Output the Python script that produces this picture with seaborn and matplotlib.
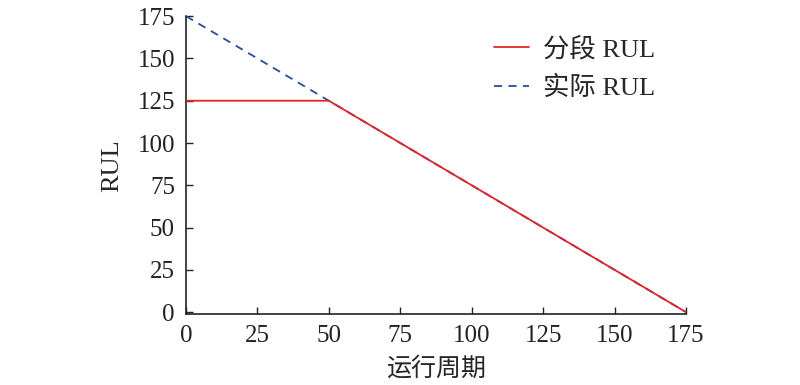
import numpy as np
import pandas as pd
import matplotlib.pyplot as plt
import seaborn as sns

# cycles and RUL values
cycles = [0, 50, 175]
actual_rul = [175, 125, 0]
piecewise_rul = [125, 125, 0]

df = pd.DataFrame({'cycle': cycles, 'actual': actual_rul, 'piecewise': piecewise_rul})

sns.set_style("ticks")
plt.rcParams['font.family'] = ['Liberation Serif', 'Noto Sans CJK SC']

fig = plt.figure(figsize=(8, 3.85), dpi=100)
ax = fig.add_axes([0.2325, 0.184, 0.625, 0.774])

# actual RUL underneath, piecewise on top
sns.lineplot(data=df, x='cycle', y='actual', ax=ax, color='#2b4a99', lw=1.3,
             linestyle=(0, (4.5, 3.5)), label='实际 RUL', zorder=2)
sns.lineplot(data=df, x='cycle', y='piecewise', ax=ax, color='#e0262a', lw=1.3,
             label='分段 RUL', zorder=3)

ax.set_xlim(0, 175)
ax.set_ylim(-1.2, 175)
ax.set_xticks(np.arange(0, 176, 25))
ax.set_yticks(np.arange(0, 176, 25))
ax.tick_params(direction='in', length=5, width=1, labelsize=18, pad=8, colors='#222222')
for s in ['top', 'right']:
    ax.spines[s].set_visible(False)
for s in ['left', 'bottom']:
    ax.spines[s].set_linewidth(1.2)
    ax.spines[s].set_color('#222222')

ax.set_xlabel('运行周期', fontsize=18, labelpad=7)
ax.set_ylabel('RUL', fontsize=19, labelpad=10)

handles, labels = ax.get_legend_handles_labels()
leg = ax.legend(handles[::-1], labels[::-1], loc='upper right', bbox_to_anchor=(0.964, 0.975),
                frameon=False, borderpad=0, fontsize=19, handlelength=1.35,
                handletextpad=0.5, labelspacing=0.55)

fig.savefig('out.png', dpi=100)
